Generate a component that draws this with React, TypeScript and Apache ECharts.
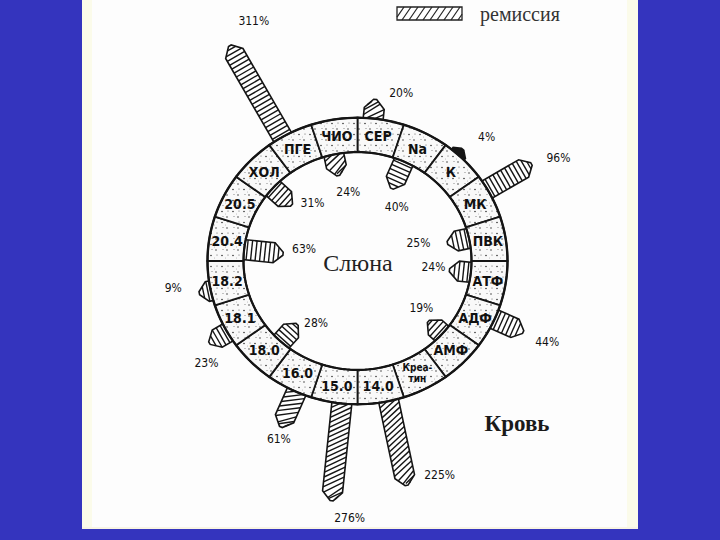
import React, { useEffect, useRef } from "react";
import * as echarts from "echarts";

// ---- data ----
const SEGMENTS = ["СЕР", "Na", "К", "МК", "ПВК", "АТФ", "АДФ", "АМФ", "Креа-\nтин", "14.0", "15.0", "16.0", "18.0", "18.1", "18.2", "20.4", "20.5", "ХОЛ", "ПГЕ", "ЧИО"];
const ARROW_SEGMENT = ["ПГЕ", "СЕР", "К", "МК", "АДФ", "15.0", "14.0", "16.0", "18.1", "18.2", "ЧИО", "Na", "ХОЛ", "20.4", "ПВК", "АТФ", "АМФ", "18.0"];
const ARROW_VALUE = [311, 20, 4, 96, 44, 276, 225, 61, 23, 9, 24, 40, 31, 63, 25, 24, 19, 28];
const ARROW_DIRECTION = ["out", "out", "out", "out", "out", "out", "out", "out", "out", "out", "in", "in", "in", "in", "in", "in", "in", "in"];
const ARROW_REMISSION = [false, true, false, false, false, true, true, true, false, false, true, false, false, false, false, false, false, false];
const CENTER_LABEL = "Слюна";
const CORNER_LABEL = "Кровь";
const LEGEND_LABEL = "ремиссия";

// ---- layout ----
const R_OUT = 150;
const R_IN = 114;
const SEG_DEG = 360 / SEGMENTS.length;
const ARROW_SHIFT = -3;
const LABEL_OFFSET = [[24, -25], [26, -6], [24, -12], [27, -6], [24, 10], [18, 17], [33, -10], [-2, 12], [-3, 20], [-26, -5], [10, 16], [5, 18], [21, -2], [21, -5], [-29, 0], [-16, -3], [-7, -13], [19, -1]];
const INK = "#151515";

const lengthOf = (v: number) => 3 * Math.pow(v, 0.62);
const pt = (r: number, deg: number) => {
  const a = (deg * Math.PI) / 180;
  return [r * Math.sin(a), r * Math.cos(a)];
};

const dotSvg =
  "data:image/svg+xml;utf8," +
  encodeURIComponent(
    '<svg xmlns="http://www.w3.org/2000/svg" width="11" height="11"><rect width="11" height="11" fill="#f9f9f9"/><circle cx="2" cy="2.5" r="0.8" fill="#333"/><circle cx="7" cy="8" r="0.75" fill="#333"/><circle cx="8" cy="2" r="0.55" fill="#555"/><circle cx="3" cy="7.5" r="0.5" fill="#666"/><circle cx="5.5" cy="5" r="0.4" fill="#777"/></svg>'
  );
const STIPPLE: any = { image: dotSvg, repeat: "repeat", imageWidth: 11, imageHeight: 11 };

function ringItem(params: any, api: any) {
  const i = api.value(0);
  const a0 = i * SEG_DEG;
  const a1 = (i + 1) * SEG_DEG;
  const N = 10;
  const pts: number[][] = [];
  for (let k = 0; k <= N; k++) pts.push(api.coord(pt(R_OUT, a0 + ((a1 - a0) * k) / N)));
  for (let k = N; k >= 0; k--) pts.push(api.coord(pt(R_IN, a0 + ((a1 - a0) * k) / N)));
  const mid = api.coord(pt((R_OUT + R_IN) / 2, (a0 + a1) / 2));
  const name = SEGMENTS[i];
  const small = name.indexOf("\n") >= 0;
  return {
    type: "group",
    children: [
      { type: "polygon", shape: { points: pts }, style: { fill: STIPPLE, stroke: INK, lineWidth: 1.8 } },
      {
        type: "text",
        x: mid[0],
        y: mid[1],
        style: {
          text: name,
          fill: "#111",
          font: small ? 'bold 10px "DejaVu Sans Condensed", sans-serif' : 'bold 14px "DejaVu Sans Condensed", sans-serif',
          align: "center",
          verticalAlign: "middle",
          textAlign: "center",
          textVerticalAlign: "middle",
          lineHeight: 11,
        },
      },
    ],
  };
}

function outlineItem(params: any, api: any) {
  const mk = (r: number) => {
    const p: number[][] = [];
    for (let k = 0; k <= 180; k++) p.push(api.coord(pt(r, k * 2)));
    return p;
  };
  return {
    type: "group",
    children: [
      { type: "polyline", shape: { points: mk(R_OUT) }, style: { fill: "none", stroke: INK, lineWidth: 2.4 } },
      { type: "polyline", shape: { points: mk(R_IN) }, style: { fill: "none", stroke: INK, lineWidth: 2.2 } },
    ],
  };
}

function arrowItem(params: any, api: any) {
  const i = api.value(0);
  const v = api.value(1);
  const segIdx = SEGMENTS.indexOf(ARROW_SEGMENT[i]);
  const ang = (segIdx + 0.5) * SEG_DEG + ARROW_SHIFT;
  const out = ARROW_DIRECTION[i] === "out";
  const a = (ang * Math.PI) / 180;
  const u = out ? [Math.sin(a), -Math.cos(a)] : [-Math.sin(a), Math.cos(a)];
  const n = [-u[1], u[0]];
  const edge = api.coord(pt(out ? R_OUT : R_IN, ang));
  const lenPx = api.size([lengthOf(v), 0])[0];
  const overlap = 6;
  const pB = [edge[0] - u[0] * overlap, edge[1] - u[1] * overlap];
  const L = lenPx + overlap;
  const h = Math.min(10, 4 + lenPx * 0.6);
  const tipLen = Math.min(9, lenPx * 0.7);
  const bodyEnd = L - tipLen;
  const at = (s: number, w: number) => [pB[0] + u[0] * s + n[0] * w, pB[1] + u[1] * s + n[1] * w];
  const tiny = lenPx < 10;
  const children: any[] = [];
  children.push({
    type: "polygon",
    shape: { points: [at(0, h), at(bodyEnd, h), at(L, 1.5), at(L, -1.5), at(bodyEnd, -h), at(0, -h)] },
    style: { fill: tiny ? INK : "#fff", stroke: INK, lineWidth: 1.6 },
  });
  if (!tiny) {
    if (ARROW_REMISSION[i]) {
      const k = 1.2 * h;
      for (let t = overlap - k; t < L - 2; t += 5) {
        const p0 = Math.max(0, (overlap - t) / k);
        const p1 = Math.min(1, (L - 2 - t) / k);
        if (p1 <= p0) continue;
        const s0 = t + k * p0;
        const s1 = t + k * p1;
        const w0 = -h + 2 * h * p0;
        const w1 = -h + 2 * h * p1;
        const lim = (s: number) => (s <= bodyEnd ? h : 1.5 + ((h - 1.5) * (L - s)) / tipLen);
        const c0 = Math.max(-lim(s0), Math.min(lim(s0), w0));
        const c1 = Math.max(-lim(s1), Math.min(lim(s1), w1));
        const A = at(s0, c0);
        const B = at(s1, c1);
        children.push({ type: "line", shape: { x1: A[0], y1: A[1], x2: B[0], y2: B[1] }, style: { stroke: INK, lineWidth: 1.4 } });
      }
    } else {
      for (let s = overlap + 3; s < L - 2; s += 4.5) {
        const hw = s <= bodyEnd ? h : 1.5 + ((h - 1.5) * (L - s)) / tipLen;
        const A = at(s, hw);
        const B = at(s, -hw);
        children.push({ type: "line", shape: { x1: A[0], y1: A[1], x2: B[0], y2: B[1] }, style: { stroke: INK, lineWidth: 1.4 } });
      }
    }
  }
  const tip = at(L, 0);
  const off = LABEL_OFFSET[i];
  children.push({
    type: "text",
    x: tip[0] + off[0],
    y: tip[1] + off[1],
    style: {
      text: v + "%",
      fill: "#111",
      font: '12px "DejaVu Sans Condensed", sans-serif',
      align: "center",
      verticalAlign: "middle",
      textAlign: "center",
      textVerticalAlign: "middle",
    },
  });
  return { type: "group", children };
}

function legendHatch() {
  const x0 = 397, y0 = 7, w = 65, hh = 13;
  const els: any[] = [{ type: "rect", shape: { x: x0, y: y0, width: w, height: hh }, style: { fill: "#fff", stroke: "#222", lineWidth: 1.3 } }];
  const slope = 9;
  for (let j = -slope; j < w; j += 7) {
    let xa = x0 + j, ya = y0 + hh, xb = x0 + j + slope, yb = y0;
    if (xa < x0) { ya = y0 + hh - ((x0 - xa) / slope) * hh; xa = x0; }
    if (xb > x0 + w) { yb = y0 + ((xb - x0 - w) / slope) * hh; xb = x0 + w; }
    els.push({ type: "line", shape: { x1: xa, y1: ya, x2: xb, y2: yb }, style: { stroke: "#222", lineWidth: 1.2 } });
  }
  return els;
}

export default function App() {
  const ref = useRef<HTMLDivElement>(null);
  useEffect(() => {
    if (!ref.current) return;
    const chart = echarts.init(ref.current, null, { renderer: "svg" });
    const option: any = {
      animation: false,
      backgroundColor: "transparent",
      grid: { left: 157.5, top: 70, width: 400, height: 382 },
      xAxis: { type: "value", min: -200, max: 200, show: false },
      yAxis: { type: "value", min: -200, max: 200, show: false },
      graphic: [
        ...legendHatch(),
        { type: "text", x: 480, y: 14, style: { text: LEGEND_LABEL, fill: "#333", font: '20px "Liberation Serif", serif', align: "left", verticalAlign: "middle", textAlign: "left", textVerticalAlign: "middle" } },
        { type: "text", x: 358, y: 263, style: { text: CENTER_LABEL, fill: "#222", font: '24px "Liberation Serif", serif', align: "center", verticalAlign: "middle", textAlign: "center", textVerticalAlign: "middle" } },
        { type: "text", x: 517, y: 423, style: { text: CORNER_LABEL, fill: "#1a1a1a", font: 'bold 23px "Liberation Serif", serif', align: "center", verticalAlign: "middle", textAlign: "center", textVerticalAlign: "middle" } },
      ],
      series: [
        { type: "custom", z: 1, clip: false, renderItem: arrowItem, data: ARROW_VALUE.map((v, i) => [i, v]) },
        { type: "custom", z: 2, clip: false, renderItem: ringItem, data: SEGMENTS.map((_, i) => [i]) },
        { type: "custom", z: 3, clip: false, silent: true, renderItem: outlineItem, data: [[0]] },
      ],
    };
    chart.setOption(option);
    return () => chart.dispose();
  }, []);
  return (
    <div style={{ position: "fixed", left: 0, top: 0, width: 720, height: 540, background: "#3434BE", overflow: "hidden" }}>
      <div style={{ position: "absolute", left: 82, top: 0, width: 556, height: 529, background: "#fdfdfd" }} />
      <div style={{ position: "absolute", left: 82, top: 0, width: 10, height: 529, background: "#fbfbea" }} />
      <div style={{ position: "absolute", left: 627, top: 0, width: 11, height: 529, background: "#fbfbea" }} />
      <div style={{ position: "absolute", left: 82, top: 527, width: 556, height: 2, background: "#f8f4e4" }} />
      <div ref={ref} style={{ position: "absolute", left: 0, top: 0, width: 720, height: 540 }} />
    </div>
  );
}
